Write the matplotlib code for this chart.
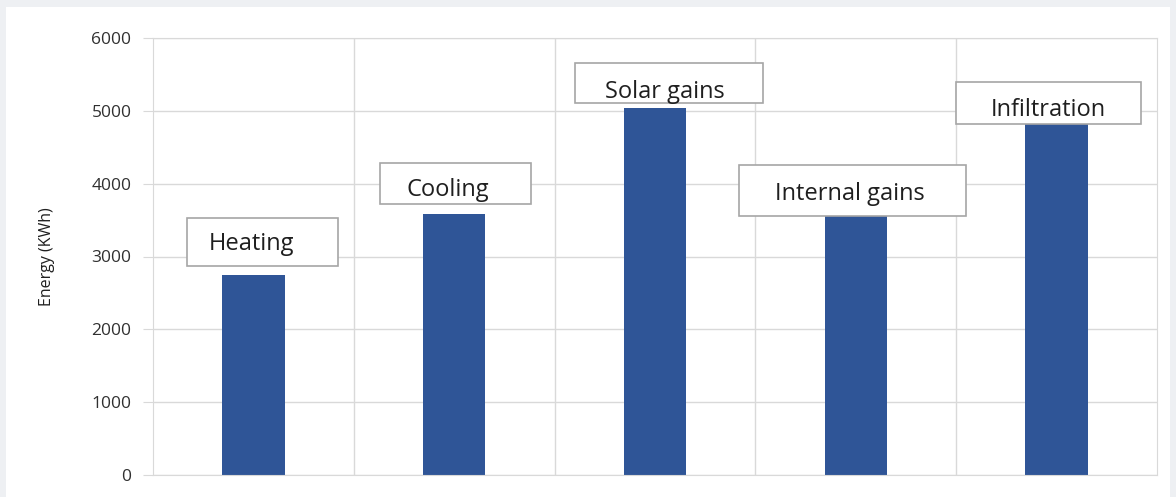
import matplotlib
matplotlib.use("Agg")
import matplotlib.pyplot as plt
from matplotlib.patches import Rectangle

categories = ["Heating", "Cooling", "Solar gains", "Internal gains", "Infiltration"]
values = [2750, 3590, 5040, 3550, 4820]
yticks = [0, 1000, 2000, 3000, 4000, 5000, 6000]

# label boxes (x0, x1, y0, y1) in data units, and text anchor (x, y)
box_x0 = [-0.33, 0.63, 1.60, 2.42, 3.50]
box_x1 = [0.42, 1.38, 2.54, 3.55, 4.42]
box_y0 = [2870, 3720, 5110, 3560, 4820]
box_y1 = [3530, 4290, 5660, 4250, 5400]
txt_x = [-0.01, 0.97, 2.05, 2.97, 3.96]
txt_y = [3170, 3910, 5260, 3860, 5010]

plt.rcParams['font.family'] = ['Open Sans', 'DejaVu Sans']

fig = plt.figure(figsize=(11.76, 4.97), dpi=100)
fig.patch.set_facecolor('#eef0f3')
# white panel
fig.add_artist(Rectangle((6/1176, 0), (1170-6)/1176, (497-7)/497,
                         transform=fig.transFigure, facecolor='white',
                         edgecolor='none', zorder=0))

ax = fig.add_axes([153/1176, (497-475)/497, (1157-153)/1176, (475-38)/497])
ax.set_facecolor('white')
x = list(range(len(categories)))
ax.bar(x, values, width=0.31, color='#2f5597', zorder=2)
ax.set_xlim(-0.5, 4.5)
ax.set_ylim(0, 6000)
ax.set_yticks(yticks)
ax.set_yticklabels([str(v) for v in yticks], fontsize=12.5, color='#303030')
ax.set_xticks([])
for b in [0.5, 1.5, 2.5, 3.5]:
    ax.axvline(b, color='#d9d9d9', lw=1, zorder=1)
ax.grid(axis='y', color='#d9d9d9', lw=1, zorder=1)
for s in ['top', 'right', 'left', 'bottom']:
    ax.spines[s].set_color('#d9d9d9')
ax.tick_params(axis='y', length=7, color='#d9d9d9', pad=8.5)
ax.set_ylabel('Energy (KWh)', fontsize=11.5, color='#1f1f1f', labelpad=26)

for i, c in enumerate(categories):
    ax.add_patch(Rectangle((box_x0[i], box_y0[i]), box_x1[i]-box_x0[i], box_y1[i]-box_y0[i],
                           facecolor='white', edgecolor='#a6a6a6', lw=1.2, zorder=3,
                           clip_on=False))
    ax.text(txt_x[i], txt_y[i], c, fontsize=17, color='#1f1f1f', ha='center',
            va='center', zorder=4)

fig.savefig('out.png', dpi=100, facecolor=fig.get_facecolor())
